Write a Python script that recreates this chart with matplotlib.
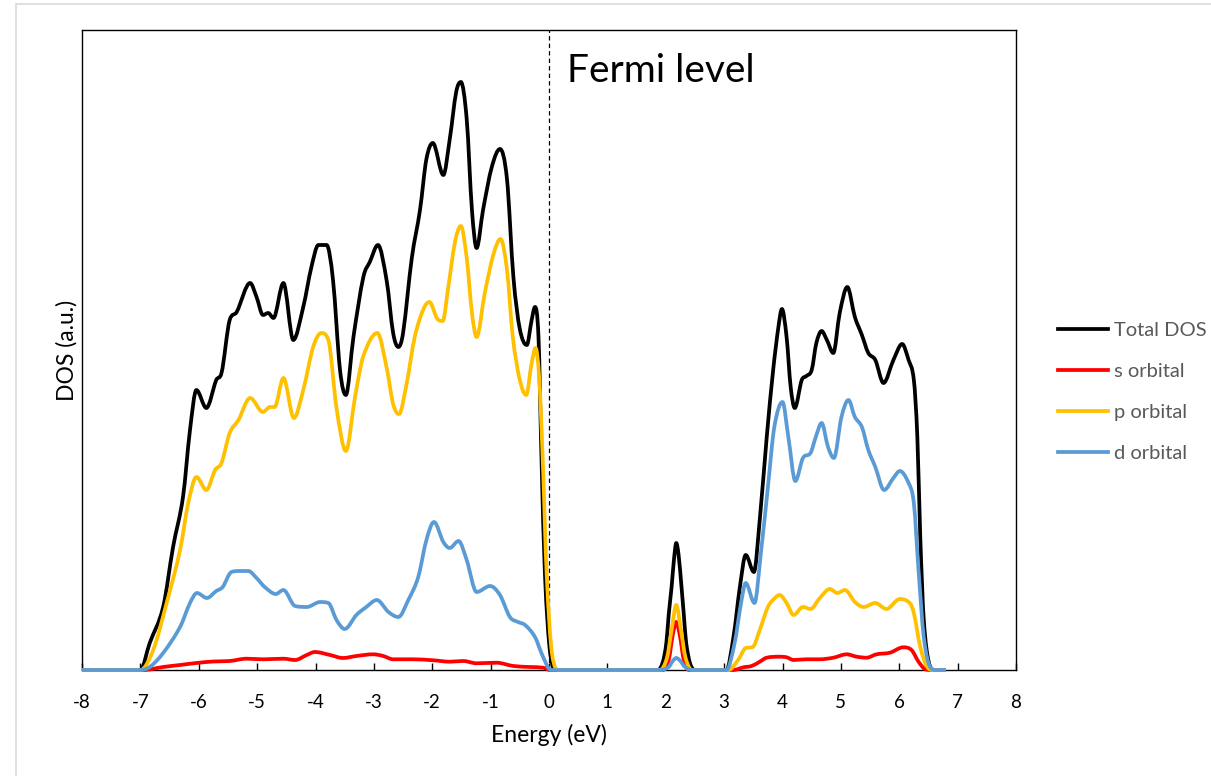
import matplotlib
matplotlib.use("Agg")
import matplotlib.pyplot as plt
from matplotlib.patches import Rectangle, PathPatch
from matplotlib.path import Path

plt.rcParams['font.family'] = ['Lato', 'DejaVu Sans']

# ---- data (energy in eV, DOS in arbitrary units) ----
total_E = [-8.0, -7.0, -6.84, -6.61, -6.44, -6.27, -6.15, -6.04, -5.87, -5.70, -5.61, -5.47, -5.35, -5.12,
           -5.01, -4.90, -4.81, -4.72, -4.55, -4.38, -4.21, -4.07, -3.95, -3.81, -3.70, -3.58, -3.48, -3.35,
           -3.18, -3.07, -2.93, -2.78, -2.67, -2.58, -2.50, -2.35, -2.21, -2.10, -1.99, -1.81, -1.70, -1.59,
           -1.51, -1.41, -1.32, -1.24, -1.13, -0.98, -0.84, -0.72, -0.61, -0.50, -0.38, -0.30, -0.24, -0.18,
           -0.13, -0.07, 0.02, 0.13,
           1.87, 1.95, 2.01, 2.05, 2.10, 2.14, 2.18, 2.22, 2.27, 2.31, 2.35, 2.42, 2.50,
           3.04, 3.16, 3.27, 3.37, 3.51, 3.61, 3.73, 3.84, 3.93, 3.99, 4.07, 4.14, 4.21, 4.33, 4.41, 4.50,
           4.58, 4.67, 4.76, 4.87, 4.98, 5.11, 5.24, 5.36, 5.47, 5.59, 5.73, 5.90, 6.05, 6.16, 6.25, 6.31,
           6.36, 6.42, 6.51, 6.60, 6.80]
total_DOS = [0, 0, 27, 63, 123, 173, 240, 280, 262, 290, 297, 350, 358, 387,
             373, 355, 357, 352, 387, 330, 363, 403, 425, 425, 390, 300, 275, 333,
             393, 408, 425, 389, 337, 323, 337, 412, 460, 511, 527, 495, 531, 578,
             588, 551, 460, 422, 460, 503, 521, 491, 393, 341, 325, 349, 363, 333,
             215, 96, 17, 0,
             0, 8, 27, 55, 83, 110, 127, 115, 83, 55, 27, 6, 0,
             0, 33, 83, 115, 98, 150, 233, 300, 343, 361, 333, 283, 262, 290, 294, 300,
             327, 339, 330, 317, 357, 383, 353, 335, 317, 310, 287, 310, 326, 310, 290, 233,
             133, 50, 7, 0, 0]

s_E = [-8.0, -6.95, -6.61, -6.32, -6.04, -5.75, -5.47, -5.18, -4.90, -4.55, -4.35, -4.15, -4.01, -3.75,
       -3.53, -3.30, -3.01, -2.84, -2.67, -2.33, -1.98, -1.70, -1.47, -1.24, -0.90, -0.61, -0.33, -0.10, 0.02,
       1.95, 2.05, 2.12, 2.18, 2.24, 2.31, 2.40,
       3.16, 3.33, 3.47, 3.61, 3.73, 3.95, 4.07, 4.19, 4.41, 4.64, 4.87, 5.10, 5.27, 5.44, 5.61, 5.84,
       6.07, 6.21, 6.33, 6.44, 6.55, 6.80]
s_DOS = [0, 0, 3, 5, 7, 8.5, 9, 11.3, 10.7, 11.3, 10, 15, 18, 15,
         12, 14, 15.7, 14, 10.7, 10.7, 9.7, 8.3, 9, 6.7, 7.3, 4, 3, 2.3, 0,
         0, 10, 35, 48, 35, 10, 0,
         0, 2.7, 4, 8.3, 12.3, 13.3, 12.7, 10, 10.7, 10.7, 12.3, 15.7, 13.3, 12.3, 15.7, 17.3,
         22.7, 20, 8.3, 1, 0, 0]

p_E = [-8.0, -7.0, -6.78, -6.55, -6.32, -6.18, -6.04, -5.87, -5.72, -5.61, -5.47, -5.32, -5.12, -4.90,
       -4.78, -4.70, -4.55, -4.37, -4.21, -4.04, -3.90, -3.78, -3.64, -3.48, -3.32, -3.18, -2.94, -2.78,
       -2.67, -2.57, -2.44, -2.30, -2.15, -2.05, -1.91, -1.82, -1.73, -1.61, -1.51, -1.41, -1.32, -1.24,
       -1.10, -0.95, -0.83, -0.72, -0.62, -0.50, -0.39, -0.30, -0.23, -0.17, -0.11, -0.04, 0.05, 0.17,
       1.90, 2.02, 2.10, 2.18, 2.26, 2.34, 2.45,
       3.07, 3.24, 3.37, 3.49, 3.61, 3.75, 3.87, 3.95, 4.07, 4.19, 4.35, 4.48, 4.64, 4.81, 4.94, 5.07,
       5.24, 5.39, 5.59, 5.78, 6.01, 6.18, 6.25, 6.36, 6.48, 6.58, 6.80]
p_DOS = [0, 0, 20, 67, 120, 167, 193, 180, 200, 207, 237, 250, 272, 258,
         263, 263, 292, 252, 280, 323, 337, 330, 262, 219, 274, 314, 337, 302,
         266, 256, 286, 333, 361, 368, 351, 349, 381, 428, 444, 412, 357, 333,
         377, 416, 431, 400, 333, 290, 275, 306, 322, 294, 215, 96, 17, 0,
         0, 12, 40, 65, 40, 12, 0,
         0, 10, 22, 23, 40, 63, 72, 75, 67, 55, 63, 61, 72, 81, 77, 80,
         68, 63, 67, 61, 71, 67, 57, 23, 3, 0, 0]

d_E = [-8.0, -7.01, -6.84, -6.61, -6.32, -6.15, -6.03, -5.86, -5.70, -5.59, -5.44, -5.30, -5.15, -5.01,
       -4.87, -4.68, -4.55, -4.35, -4.15, -3.92, -3.78, -3.64, -3.50, -3.30, -3.13, -2.95, -2.75, -2.58,
       -2.41, -2.24, -2.10, -1.97, -1.81, -1.70, -1.55, -1.41, -1.24, -1.01, -0.84, -0.67, -0.53, -0.41,
       -0.24, -0.13, -0.01, 0.05,
       1.90, 2.05, 2.12, 2.18, 2.25, 2.33, 2.45,
       3.04, 3.18, 3.29, 3.37, 3.52, 3.63, 3.75, 3.86, 4.00, 4.10, 4.22, 4.35, 4.48, 4.57, 4.67, 4.78,
       4.88, 5.01, 5.13, 5.24, 5.36, 5.47, 5.59, 5.74, 5.90, 6.01, 6.16, 6.25, 6.33, 6.42, 6.53, 6.62, 6.80]
d_DOS = [0, 0, 3, 17, 43, 67, 77, 72, 79, 83, 98, 99, 99, 92,
         83, 76, 80, 64, 63, 68, 67, 50, 41, 55, 63, 70, 58, 53,
         70, 93, 130, 148, 128, 122, 129, 110, 78, 84, 75, 53, 48, 45,
         33, 17, 2, 0,
         0, 3, 9, 12, 9, 3, 0,
         0, 27, 67, 87, 67, 117, 183, 243, 268, 233, 189, 212, 217, 233, 247, 223,
         212, 253, 270, 253, 243, 220, 203, 180, 192, 199, 187, 167, 100, 33, 3, 0, 0]

series_labels = ["Total DOS", "s orbital", "p orbital", "d orbital"]
series_colors = ["#000000", "#FF0000", "#FFC000", "#5B9BD5"]
x_ticks = [-8, -7, -6, -5, -4, -3, -2, -1, 0, 1, 2, 3, 4, 5, 6, 7, 8]
x_tick_labels = ["-8", "-7", "-6", "-5", "-4", "-3", "-2", "-1", "0", "1", "2", "3", "4", "5", "6", "7", "8"]
fermi_E = 0.0


def smooth_line_path(xs, ys):
    """Excel-like smoothed line: cubic Bezier segments through the data points
    (monotone Hermite tangents, so no overshoot)."""
    n = len(xs)
    m = [0.0] * n
    for i in range(1, n - 1):
        d0 = (ys[i] - ys[i - 1]) / (xs[i] - xs[i - 1])
        d1 = (ys[i + 1] - ys[i]) / (xs[i + 1] - xs[i])
        if d0 * d1 <= 0:
            m[i] = 0.0
        else:
            c = (ys[i + 1] - ys[i - 1]) / (xs[i + 1] - xs[i - 1])
            lim = 3 * min(abs(d0), abs(d1))
            m[i] = max(-lim, min(lim, c))
    verts = [(xs[0], ys[0])]
    codes = [Path.MOVETO]
    for i in range(n - 1):
        dx = xs[i + 1] - xs[i]
        verts += [(xs[i] + dx / 3, ys[i] + m[i] * dx / 3),
                  (xs[i + 1] - dx / 3, ys[i + 1] - m[i + 1] * dx / 3),
                  (xs[i + 1], ys[i + 1])]
        codes += [Path.CURVE4] * 3
    return Path(verts, codes)


# ---- figure ----
W, H = 1211, 776
fig = plt.figure(figsize=(W / 100, H / 100), dpi=100)
fig.patch.set_facecolor("white")

# light chart-area border
fig.add_artist(Rectangle((16 / W, -0.05), 1.1, (H - 4) / H + 0.05, transform=fig.transFigure,
                         fill=False, edgecolor="#D9D9D9", linewidth=1.2))

ax = fig.add_axes([82 / W, 1 - 670 / H, (1016 - 82) / W, (670 - 30) / H])

LW = 2.7
data = [(total_E, total_DOS), (s_E, s_DOS), (p_E, p_DOS), (d_E, d_DOS)]
handles = []
for k, ((E, D), lab, col) in enumerate(zip(data, series_labels, series_colors)):
    path = smooth_line_path(E, [v / 100 for v in D])
    ax.add_patch(PathPatch(path, fill=False, edgecolor=col, lw=LW, transform=ax.transData,
                           joinstyle="round", capstyle="butt", zorder=3 + k, clip_on=False))
    h, = ax.plot([], [], color=col, lw=LW, label=lab)
    handles.append(h)

ax.axvline(fermi_E, color="black", lw=0.9, ls=(0, (3.5, 2.5)), zorder=2)
ax.text(0.31, 5.88, "Fermi level", fontsize=28, color="black", ha="left", va="baseline")

ax.set_xlim(-8, 8)
ax.set_ylim(0, 6.40)
ax.set_xticks(x_ticks)
ax.set_xticklabels(x_tick_labels, fontsize=13.5, color="black")
ax.tick_params(axis="x", direction="in", length=5, width=1, pad=17.5)
ax.set_yticks([])
for sp in ax.spines.values():
    sp.set_color("black")
    sp.set_linewidth(1.0)
    sp.set_zorder(2.5)

ax.set_xlabel("Energy (eV)", fontsize=16.5, labelpad=9)
ax.set_ylabel("DOS (a.u.)", fontsize=16.5, labelpad=3.5)

leg = fig.legend(handles=handles, loc="center left", bbox_to_anchor=(1058 / W, 1 - 391.7 / H),
                 frameon=False, fontsize=14.5, handlelength=2.49, handletextpad=0.3,
                 labelspacing=1.19, borderpad=0, borderaxespad=0)
for t in leg.get_texts():
    t.set_color("#595959")

fig.savefig("out.png", dpi=100)
